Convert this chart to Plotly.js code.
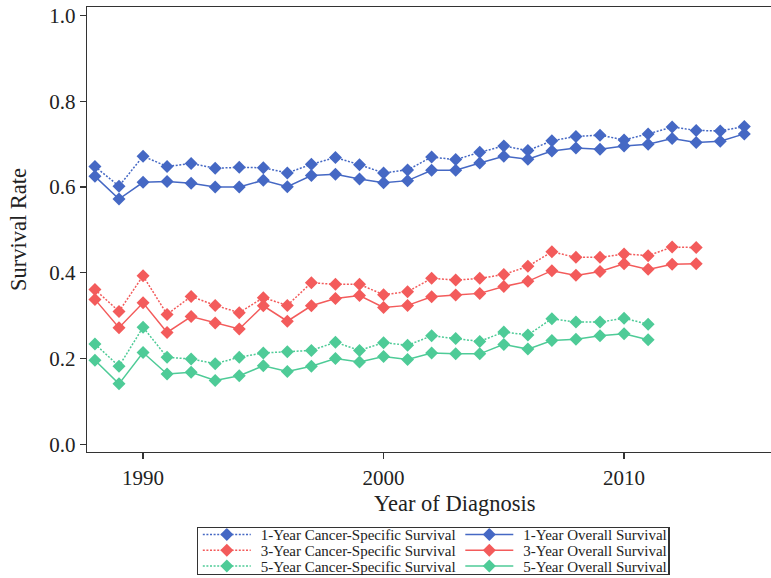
<!DOCTYPE html>
<html>
<head>
<meta charset="utf-8">
<script src="https://cdn.plot.ly/plotly-3.0.1.min.js"></script>
<style>
  html, body { margin: 0; padding: 0; background: #ffffff; overflow: hidden; }
  #chart { width: 771px; height: 578px; }
</style>
</head>
<body>
<div id="chart"></div>
<script>
// Survival by year of diagnosis
const years1 = [1988,1989,1990,1991,1992,1993,1994,1995,1996,1997,1998,1999,2000,2001,
                2002,2003,2004,2005,2006,2007,2008,2009,2010,2011,2012,2013,2014,2015];
const years3 = years1.slice(0, 26);   // 1988-2013
const years5 = years1.slice(0, 24);   // 1988-2011

const css1 = [0.648,0.602,0.672,0.648,0.655,0.644,0.646,0.645,0.633,0.653,0.669,0.652,0.633,0.640,
              0.670,0.664,0.681,0.696,0.685,0.708,0.718,0.721,0.710,0.724,0.740,0.732,0.731,0.741];
const os1  = [0.625,0.572,0.611,0.613,0.609,0.600,0.600,0.616,0.601,0.627,0.630,0.619,0.610,0.615,
              0.639,0.639,0.656,0.672,0.665,0.684,0.691,0.688,0.696,0.700,0.713,0.704,0.707,0.724];
const css3 = [0.361,0.310,0.393,0.303,0.345,0.324,0.307,0.342,0.324,0.377,0.373,0.373,0.349,0.356,
              0.387,0.383,0.387,0.396,0.415,0.449,0.436,0.436,0.444,0.440,0.460,0.459];
const os3  = [0.338,0.272,0.330,0.261,0.298,0.283,0.269,0.323,0.287,0.323,0.340,0.347,0.319,0.324,
              0.344,0.348,0.352,0.368,0.380,0.405,0.394,0.403,0.421,0.408,0.420,0.421];
const css5 = [0.234,0.182,0.273,0.203,0.199,0.188,0.203,0.213,0.216,0.219,0.238,0.219,0.237,0.231,
              0.253,0.247,0.240,0.262,0.255,0.293,0.285,0.285,0.294,0.280];
const os5  = [0.196,0.141,0.214,0.164,0.168,0.149,0.160,0.183,0.170,0.182,0.200,0.192,0.205,0.198,
              0.213,0.211,0.211,0.233,0.222,0.242,0.245,0.253,0.258,0.244];

const seriesNames = [
  '1-Year Cancer-Specific Survival', '1-Year Overall Survival',
  '3-Year Cancer-Specific Survival', '3-Year Overall Survival',
  '5-Year Cancer-Specific Survival', '5-Year Overall Survival'
];
const yTicks = [0.0, 0.2, 0.4, 0.6, 0.8, 1.0];
const xTicks = [1990, 2000, 2010];

const BLUE = '#4568c4', RED = '#f35b5b', GREEN = '#4ecb97';
const FONT = 'Liberation Serif, Times New Roman, serif';

function trace(x, y, name, color, dotted) {
  return {
    x: x, y: y, name: name, type: 'scatter', mode: 'lines+markers',
    line: { color: color, width: 1.5, dash: dotted ? '2px,1.6px' : 'solid' },
    marker: { symbol: 'diamond', size: 10, color: color }
  };
}

// legend fills row by row: cancer-specific on the left, overall on the right
const data = [
  trace(years1, css1, seriesNames[0], BLUE, true),
  trace(years1, os1,  seriesNames[1], BLUE, false),
  trace(years3, css3, seriesNames[2], RED, true),
  trace(years3, os3,  seriesNames[3], RED, false),
  trace(years5, css5, seriesNames[4], GREEN, true),
  trace(years5, os5,  seriesNames[5], GREEN, false)
];

const axisCommon = {
  showline: true, linecolor: '#333333', linewidth: 1.3,
  ticks: 'outside', ticklen: 6, tickwidth: 1.3, tickcolor: '#333333',
  showgrid: false, zeroline: false,
  tickfont: { family: FONT, size: 21, color: '#222222' }
};

const layout = {
  width: 771, height: 578,
  margin: { l: 87, r: 0, t: 7, b: 126 },
  paper_bgcolor: '#ffffff', plot_bgcolor: '#ffffff',
  font: { family: FONT, color: '#222222' },
  showlegend: true,
  xaxis: Object.assign({}, axisCommon, {
    range: [1987.67, 2016.11],
    tickvals: xTicks,
    mirror: true
  }),
  yaxis: Object.assign({}, axisCommon, {
    range: [-0.018, 1.02],
    tickvals: yTicks,
    tickformat: '.1f',
    title: { text: 'Survival Rate', font: { family: FONT, size: 22.5, color: '#222222' }, standoff: 16 }
  }),
  annotations: [{
    text: 'Year of Diagnosis', xref: 'paper', yref: 'paper',
    x: 0.538, y: -0.115, xanchor: 'center', yanchor: 'middle', showarrow: false,
    font: { family: FONT, size: 22.5, color: '#222222' }
  }],
  legend: {
    orientation: 'h',
    xref: 'container', yref: 'container',
    x: 0.255, xanchor: 'left', y: 0, yanchor: 'bottom',
    entrywidth: 200, itemwidth: 48,
    bordercolor: '#333333', borderwidth: 1.3, bgcolor: '#ffffff',
    font: { family: FONT, size: 15, color: '#222222' },
    tracegroupgap: 0, itemclick: false
  }
};

// compact legend box: two columns, tight rows
const LEGEND_BOX = { left: 196.5, top: 527, width: 472, height: 47, rowGap: 15.8, firstRow: 7.6,
                     colGap: 262.5, textShift: 5 };

function parseTranslate(el) {
  const m = /translate\(\s*([-\d.eE]+)[ ,]+([-\d.eE]+)\s*\)/.exec(el.getAttribute('transform') || '');
  return m ? [parseFloat(m[1]), parseFloat(m[2])] : [0, 0];
}

function compactLegend(gd) {
  const leg = gd.querySelector('g.legend');
  if (!leg) return;
  const bg = leg.querySelector('rect.bg');
  const items = Array.from(leg.querySelectorAll('g.traces'));
  if (!bg || !items.length) return;

  const bgTop = bg.getBoundingClientRect().top;
  const firstText = items[0].querySelector('text');
  const tb = firstText.getBoundingClientRect();
  const textOffset = (tb.top + tb.bottom) / 2 - bgTop;
  const [x0, y0] = parseTranslate(items[0]);

  items.forEach(function (item, i) {
    const row = Math.floor(i / 2), col = i % 2;
    const nx = x0 + col * LEGEND_BOX.colGap;
    const ny = y0 + (LEGEND_BOX.firstRow + row * LEGEND_BOX.rowGap - textOffset);
    item.setAttribute('transform', 'translate(' + nx + ',' + ny + ')');
    const label = item.querySelector('text.legendtext');
    if (label) label.setAttribute('transform', 'translate(' + LEGEND_BOX.textShift + ',0)');
  });

  bg.setAttribute('width', LEGEND_BOX.width);
  bg.setAttribute('height', LEGEND_BOX.height);
  leg.setAttribute('transform', 'translate(' + LEGEND_BOX.left + ',' + LEGEND_BOX.top + ')');
}

const gd = document.getElementById('chart');
Plotly.newPlot(gd, data, layout, { displayModeBar: false, staticPlot: true })
  .then(function () { compactLegend(gd); });
</script>
</body>
</html>
